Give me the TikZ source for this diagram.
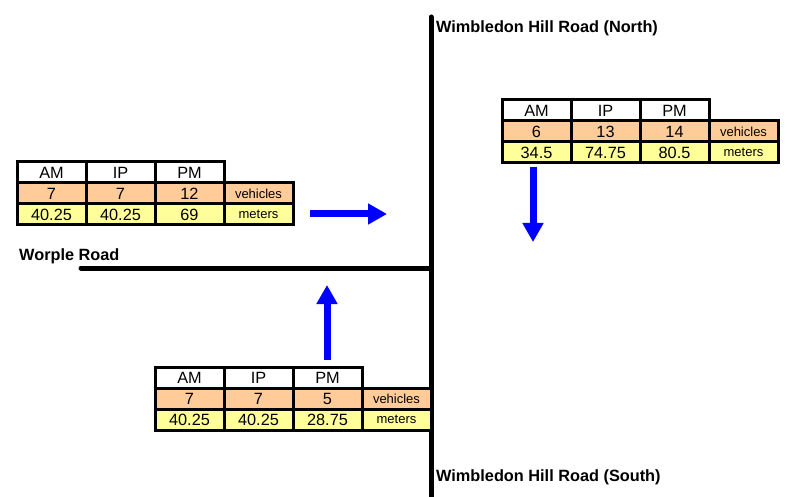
\documentclass[tikz,border=0pt]{standalone}
\usepackage{fontspec}
\setmainfont{Liberation Sans}
\usetikzlibrary{arrows.meta}
\definecolor{vehfill}{HTML}{FFCC99}
\definecolor{metfill}{HTML}{FFFF99}
\definecolor{arrowblue}{HTML}{0000FF}
\tikzset{
  road/.style={line width=5pt, line cap=round, black},
  roadlabel/.style={font=\bfseries\fontsize{16.3}{19}\selectfont, anchor=west, inner sep=0pt},
  cell/.style={draw=black, line width=3pt, minimum width=69pt, minimum height=21pt, inner sep=0pt,
     font=\fontsize{16.3}{18}\selectfont},
  hdrcell/.style={cell, fill=white},
  vehcell/.style={cell, fill=vehfill},
  metcell/.style={cell, fill=metfill},
  unitfont/.style={font=\fontsize{13}{15}\selectfont},
  flow/.style={draw=arrowblue, line width=7pt, -{Triangle[width=20pt,length=19pt]}, arrowblue},
}
% #1 prefix, #2 x0, #3 y0, #4-#6 vehicles, #7-#9 meters
\newcommand\trafftable[9]{%
  \begin{scope}[shift={(#2,#3)}]
    \node[hdrcell] (#1am) at (34.5,10.5) {AM};
    \node[hdrcell] (#1ip) at (103.5,10.5) {IP};
    \node[hdrcell] (#1pm) at (172.5,10.5) {PM};
    \node[vehcell] (#1va) at (34.5,31.5) {#4};
    \node[vehcell] (#1vi) at (103.5,31.5) {#5};
    \node[vehcell] (#1vp) at (172.5,31.5) {#6};
    \node[vehcell, unitfont] (#1vu) at (241.5,31.5) {vehicles};
    \node[metcell] (#1ma) at (34.5,52.5) {#7};
    \node[metcell] (#1mi) at (103.5,52.5) {#8};
    \node[metcell] (#1mp) at (172.5,52.5) {#9};
    \node[metcell, unitfont] (#1mu) at (241.5,52.5) {meters};
  \end{scope}}
\begin{document}
\begin{tikzpicture}[x=1pt, y=-1pt]
\useasboundingbox (0,0) rectangle (787,497);
% roads
\coordinate (nTop) at (431,17);
\coordinate (sBot) at (431,505);
\coordinate (wEnd) at (81,268);
\coordinate (junc) at (431,268);
\draw[road] (nTop) -- (sBot);
\draw[road] (wEnd) -- (junc);
\node[roadlabel] (northlbl) at (436,28) {Wimbledon Hill Road (North)};
\node[roadlabel] (southlbl) at (436,477) {Wimbledon Hill Road (South)};
\node[roadlabel] (worplelbl) at (19,256.5) {Worple Road};
% tables
\trafftable{L}{17}{162}{7}{7}{12}{40.25}{40.25}{69}
\trafftable{R}{502}{100}{6}{13}{14}{34.5}{74.75}{80.5}
\trafftable{B}{155}{367}{7}{7}{5}{40.25}{40.25}{28.75}
% flow arrows
\coordinate (a1s) at (310,214);
\coordinate (a1e) at (387,214);
\coordinate (a2s) at (533,167);
\coordinate (a2e) at (533,242);
\coordinate (a3s) at (327,360);
\coordinate (a3e) at (327,285);
\draw[flow] (a1s) -- (a1e);
\draw[flow] (a2s) -- (a2e);
\draw[flow] (a3s) -- (a3e);
\end{tikzpicture}
\end{document}
